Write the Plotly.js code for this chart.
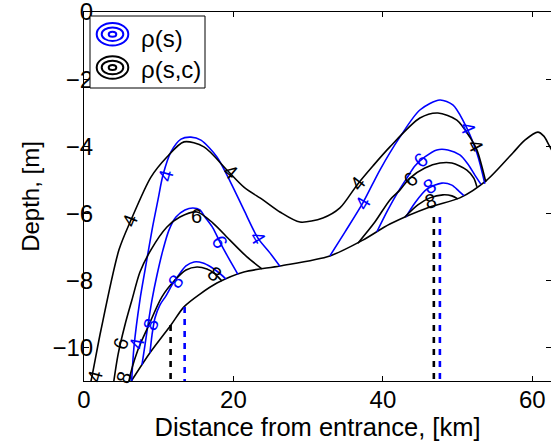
<!DOCTYPE html>
<html>
<head>
<meta charset="utf-8">
<script src="https://cdn.plot.ly/plotly-3.0.1.min.js"></script>
<style>
  html, body { margin: 0; padding: 0; background: #fff; }
  #chart { width: 551px; height: 442px; }
</style>
</head>
<body>
<div id="chart"></div>
<script>
// ---- Bed profile along the estuary (distance km, depth m) ----
const bedX = [5.6, 6.42, 8.83, 11.64, 13.38, 15.52, 17.79, 21.40, 26.22, 32.91, 37.32, 40.94, 46.29, 50.30, 53.91, 57.39, 59.0, 60.74, 61.54, 62.21, 62.74];
const bedY = [-11.25, -10.97, -10.16, -9.33, -8.79, -8.41, -8.08, -7.75, -7.57, -7.27, -6.80, -6.32, -5.81, -5.54, -5.01, -4.20, -3.82, -3.58, -3.70, -3.96, -4.17];

// ---- Density contours rho(s): levels 4, 6, 8 (pieces end on the bed) ----
const s4aX = [6.3, 6.69, 7.49, 8.29, 9.10, 9.90, 10.57, 11.64, 12.98, 14.31, 15.65, 17.79, 19.67, 21.40, 23.28, 24.88, 26.22];
const s4aY = [-11.3, -9.98, -8.58, -7.54, -6.50, -5.60, -4.86, -4.17, -3.79, -3.73, -3.82, -4.32, -5.10, -5.90, -6.74, -7.18, -7.58];
const s4bX = [32.91, 34.92, 37.32, 39.60, 42.27, 44.95, 47.63, 49.36, 50.70, 52.58, 53.65];
const s4bY = [-7.27, -6.56, -5.69, -4.71, -3.73, -2.92, -2.62, -2.77, -3.22, -4.20, -5.12];
const s6aX = [7.76, 8.16, 8.56, 9.10, 9.77, 10.57, 11.37, 12.31, 13.51, 14.58, 15.52, 16.19, 17.26, 18.19, 19.26, 20.60];
const s6aY = [-10.52, -9.93, -9.33, -8.58, -7.84, -7.09, -6.50, -6.11, -5.90, -5.84, -5.90, -6.11, -6.44, -6.86, -7.30, -7.82];
const s6bX = [39.20, 40.67, 42.01, 43.21, 44.28, 45.62, 47.22, 48.70, 50.30, 51.37, 52.31, 53.11];
const s6bY = [-6.55, -5.90, -5.37, -4.95, -4.59, -4.32, -4.11, -4.11, -4.26, -4.53, -4.86, -5.13];
const s8aX = [8.83, 9.10, 9.50, 10.17, 10.97, 11.77, 12.58, 13.65, 14.72, 15.92, 16.99, 17.93, 19.00];
const s8aY = [-10.16, -9.63, -9.12, -8.73, -8.46, -8.14, -7.87, -7.57, -7.45, -7.48, -7.60, -7.75, -7.96];
const s8bX = [43.08, 44.28, 45.89, 47.89, 49.23, 50.17, 50.84];
const s8bY = [-6.11, -5.69, -5.28, -5.10, -5.16, -5.34, -5.47];

// ---- Density contours rho(s,c): levels 4, 6, 8 ----
const sc4X = [0.6, 0.94, 2.27, 4.68, 6.29, 8.96, 11.10, 13.38, 16.05, 19.13, 21.40, 23.95, 26.22, 28.90, 31.97, 34.25, 36.52, 38.66, 40.94, 44.95, 47.36, 49.90, 51.64, 52.58, 53.78];
const sc4Y = [-11.3, -11.0, -9.48, -7.09, -6.20, -4.92, -4.32, -3.87, -4.02, -4.71, -5.22, -5.60, -5.96, -6.26, -6.14, -5.84, -5.16, -4.59, -4.02, -3.16, -3.01, -3.22, -3.73, -4.11, -5.07];
const sc6aX = [3.8, 4.55, 5.48, 6.42, 7.49, 8.96, 11.10, 12.84, 15.12, 17.26, 19.53, 21.81, 23.81];
const sc6aY = [-11.3, -10.22, -9.33, -8.58, -7.75, -7.09, -6.41, -6.11, -5.96, -6.29, -6.80, -7.30, -7.66];
const sc6bX = [36.66, 38.93, 40.94, 42.27, 43.61, 45.62, 47.63, 49.23, 51.24, 52.17, 52.58];
const sc6bY = [-6.89, -6.26, -5.60, -5.31, -4.95, -4.65, -4.50, -4.50, -4.71, -4.95, -5.21];
const sc8aX = [5.9, 6.02, 7.22, 8.56, 10.43, 12.17, 13.65, 15.12, 16.45, 17.39, 18.46];
const sc8aY = [-11.3, -11.0, -10.07, -9.39, -8.49, -7.99, -7.69, -7.60, -7.66, -7.78, -8.02];
const sc8bX = [42.94, 44.68, 46.29, 48.03, 49.23, 50.03];
const sc8bY = [-6.11, -5.75, -5.54, -5.45, -5.48, -5.57];

// ---- Contour labels (level values) ----
const sLabX = [7.09, 10.97, 23.28, 37.32, 51.37, 18.19, 45.08, 8.96, 12.31, 46.29];
const sLabY = [-9.87, -4.86, -6.74, -5.69, -3.46, -6.86, -4.41, -9.30, -8.02, -5.19];
const sLabLevel = [4, 4, 4, 4, 4, 6, 6, 8, 8, 8];
const scLabX = [1.47, 6.15, 19.67, 36.66, 52.44, 4.95, 15.12, 43.75, 5.35, 17.53, 46.42];
const scLabY = [-10.85, -6.20, -4.77, -5.10, -3.99, -9.87, -6.08, -4.98, -10.88, -7.81, -5.63];
const scLabLevel = [4, 4, 4, 4, 4, 6, 6, 6, 8, 8, 8];

// ---- Salt-intrusion section positions (km) and their upper ends (m) ----
const sSectionX = [13.47, 47.63];
const sSectionTop = [-8.79, -6.11];
const scSectionX = [11.59, 46.82];
const scSectionTop = [-9.33, -6.11];
const axisBottom = -11;

const BLUE = 'rgb(0,0,255)';
const BLACK = 'rgb(0,0,0)';
const FONT = 'Liberation Sans, Arial, Helvetica, sans-serif';

function curve(x, y, color) {
  return { type: 'scatter', mode: 'lines', x: x, y: y, hoverinfo: 'skip',
           line: { color: color, width: 1.6, shape: 'spline', smoothing: 0.8 } };
}
function sections(xs, tops, color) {
  return xs.map((x, i) => ({
    type: 'scatter', mode: 'lines', x: [x, x], y: [tops[i], axisBottom], hoverinfo: 'skip',
    line: { color: color, width: 2.6, dash: '6px,6px' }
  }));
}

const traces = [
  curve(bedX, bedY, BLACK),
  curve(s4aX, s4aY, BLUE), curve(s4bX, s4bY, BLUE),
  curve(s6aX, s6aY, BLUE), curve(s6bX, s6bY, BLUE),
  curve(s8aX, s8aY, BLUE), curve(s8bX, s8bY, BLUE),
  curve(sc4X, sc4Y, BLACK),
  curve(sc6aX, sc6aY, BLACK), curve(sc6bX, sc6bY, BLACK),
  curve(sc8aX, sc8aY, BLACK), curve(sc8bX, sc8bY, BLACK),
  ...sections(scSectionX, scSectionTop, BLACK),
  ...sections(sSectionX, sSectionTop, BLUE)
];

// label orientation follows the local direction of each contour
const sLabAngle = [-80, -75, 59, -60, 67, 62, -42, -70, -55, -30];
const scLabAngle = [-75, -68, 40, -52, 62, -72, 0, -41, -70, 39, -15];

const annotations = [];
function addLabels(xs, ys, levels, angles, color) {
  xs.forEach((x, i) => annotations.push({
    x: x, y: ys[i], xref: 'x', yref: 'y', text: String(levels[i]), showarrow: false,
    textangle: angles[i], xanchor: 'center', yanchor: 'middle',
    font: { family: FONT, size: 20, color: color }
  }));
}
addLabels(sLabX, sLabY, sLabLevel, sLabAngle, BLUE);
addLabels(scLabX, scLabY, scLabLevel, scLabAngle, BLACK);

// legend drawn in pixel terms relative to the plot frame
const L = 84, T = 12, W = 467, H = 369;
const px = v => (v - L) / W;
const py = v => (T + H - v) / H;

const shapes = [
  { type: 'rect', xref: 'paper', yref: 'paper', x0: px(90), x1: px(205), y0: py(88), y1: py(16),
    line: { color: BLACK, width: 1 }, fillcolor: 'white', layer: 'above' }
];
function rings(cx, cy, color) {
  [[15.8, 11.3], [10.8, 6.8], [3.8, 2.5]].forEach(r => shapes.push({
    type: 'circle', xref: 'paper', yref: 'paper', layer: 'above',
    x0: px(cx - r[0]), x1: px(cx + r[0]), y0: py(cy + r[1]), y1: py(cy - r[1]),
    line: { color: color, width: 2 }
  }));
}
rings(112.5, 34.2, BLUE);
rings(112.5, 67.5, BLACK);
annotations.push(
  { xref: 'paper', yref: 'paper', x: px(139), y: py(38), text: 'ρ(s)', showarrow: false,
    xanchor: 'left', yanchor: 'middle', font: { family: FONT, size: 24, color: BLACK } },
  { xref: 'paper', yref: 'paper', x: px(139), y: py(70), text: 'ρ(s,c)', showarrow: false,
    xanchor: 'left', yanchor: 'middle', font: { family: FONT, size: 24, color: BLACK } }
);

const axisCommon = {
  ticks: 'inside', ticklen: 5, tickwidth: 1, tickcolor: BLACK,
  showline: true, linecolor: BLACK, linewidth: 1, mirror: 'ticks',
  showgrid: false, zeroline: false, ticklabeloverflow: 'allow',
  tickfont: { family: FONT, size: 24, color: BLACK }
};

const layout = {
  width: 551, height: 442,
  margin: { l: L, r: 0, t: T, b: 442 - T - H },
  paper_bgcolor: 'white', plot_bgcolor: 'white',
  showlegend: false,
  font: { family: FONT, color: BLACK },
  xaxis: Object.assign({}, axisCommon, {
    range: [0, 62.5], tickvals: [0, 20, 40, 60], ticklabelstandoff: -3,
    title: { text: 'Distance from entrance, [km]', font: { family: FONT, size: 25.5, color: BLACK }, standoff: 5 }
  }),
  yaxis: Object.assign({}, axisCommon, {
    range: [-11, 0.002], tickvals: [0, -2, -4, -6, -8, -10], ticklabelstandoff: -15,
    title: { text: 'Depth, [m]', font: { family: FONT, size: 24, color: BLACK }, standoff: 6 }
  }),
  shapes: shapes,
  annotations: annotations
};

Plotly.newPlot('chart', traces, layout, { displayModeBar: false, staticPlot: true });
</script>
</body>
</html>
